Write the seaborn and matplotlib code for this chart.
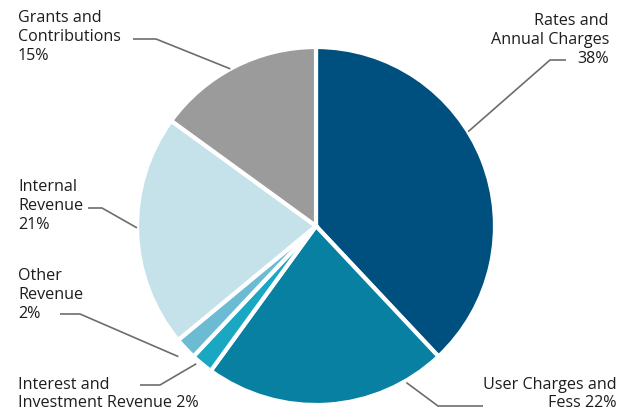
import matplotlib
matplotlib.use("Agg")
import matplotlib.pyplot as plt
import numpy as np
import seaborn as sns

# Revenue sources (share of total, %)
categories = ["Rates and\nAnnual Charges", "User Charges and\nFess", "Interest and\nInvestment Revenue",
              "Other\nRevenue", "Internal\nRevenue", "Grants and\nContributions"]
shares = [38, 22, 2, 2, 21, 15]
label_text = ["Rates and\nAnnual Charges\n38%", "User Charges and\nFess 22%",
              "Interest and\nInvestment Revenue 2%", "Other\nRevenue\n2%",
              "Internal\nRevenue\n21%", "Grants and\nContributions\n15%"]
colors = ["#00507f", "#0780a2", "#19a7c2", "#6bbcd2", "#c5e2ea", "#9b9b9b"]

sns.set_theme(style="white")
plt.rcParams["font.family"] = ["Open Sans", "DejaVu Sans"]

W, H = 623, 412
fig = plt.figure(figsize=(W / 100, H / 100), dpi=100)
ax = fig.add_axes([0, 0, 1, 1])

cx, cy, r = 316, H - 226, 179
wedges, _ = ax.pie(shares, colors=colors, startangle=90, counterclock=False,
                   center=(cx, cy), radius=r,
                   wedgeprops=dict(edgecolor="white", linewidth=3))
ax.set_xlim(0, W)
ax.set_ylim(0, H)
ax.set_aspect("equal")
ax.axis("off")

# label layout: text anchor (x, y in pixels from top), alignment,
# leader start/elbow (pixels) and attach angle (deg) / radius factor
layout = [
    dict(xy=(609, 40), ha="right", line=[(566, 60), (550, 60)], ang=31.8, rf=1.0),
    dict(xy=(617, 394), ha="right", line=[(483, 406), (438, 406)], ang=-60.0, rf=1.01),
    dict(xy=(18, 394), ha="left", line=[(140, 385), (160, 385)], ang=229.0, rf=1.02),
    dict(xy=(18, 295), ha="left", line=[(60, 314), (80, 314)], ang=223.5, rf=1.06),
    dict(xy=(18, 206), ha="left", line=[(88, 208), (102, 208)], ang=180.6, rf=1.0),
    dict(xy=(18, 37), ha="left", line=[(133, 39), (156, 39)], ang=118.6, rf=1.0),
]

for txt, lay in zip(label_text, layout):
    x, y = lay["xy"]
    ax.text(x, H - y, txt, ha=lay["ha"], va="center", fontsize=11.6,
            color="#1f1c1d", linespacing=1.22)
    a = np.deg2rad(lay["ang"])
    ex = cx + r * lay["rf"] * np.cos(a)
    ey = cy + r * lay["rf"] * np.sin(a)
    xs = [p[0] for p in lay["line"]] + [ex]
    ys = [H - p[1] for p in lay["line"]] + [ey]
    ax.plot(xs, ys, color="#6d6d6d", lw=1.2, solid_capstyle="butt")

fig.savefig("out.png", dpi=100, facecolor="white")
